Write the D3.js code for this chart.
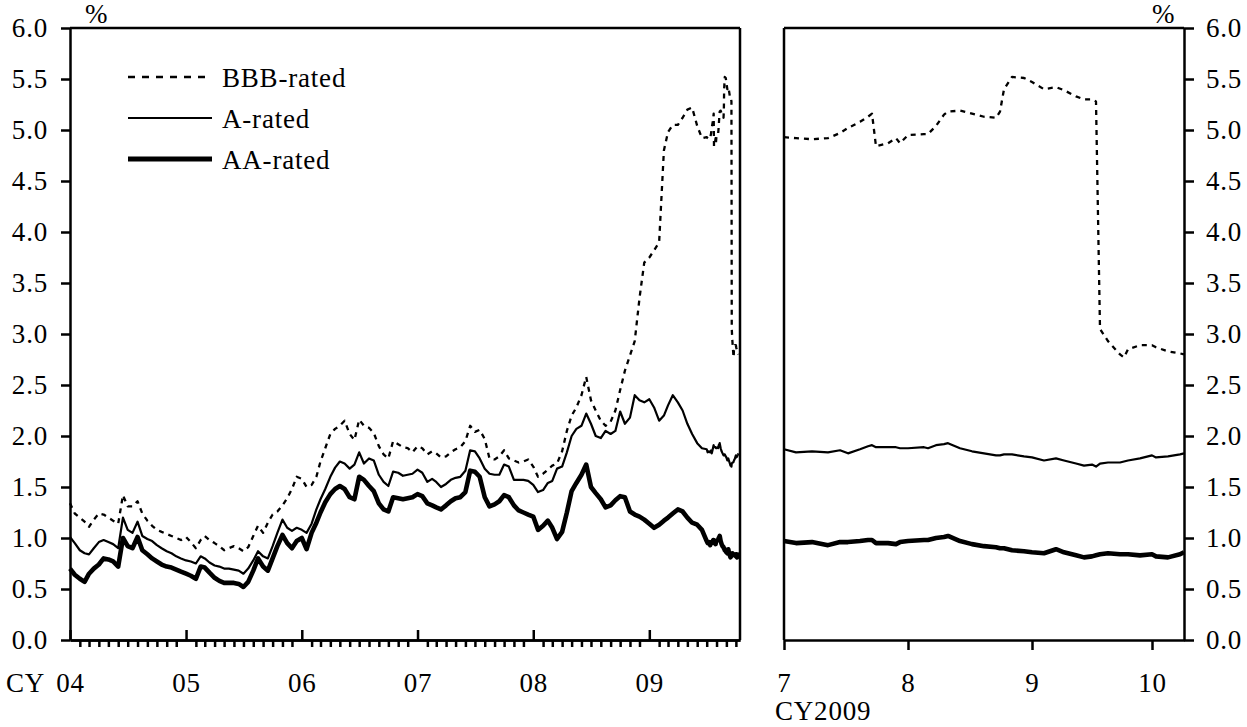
<!DOCTYPE html>
<html><head><meta charset="utf-8">
<script src="https://cdn.jsdelivr.net/npm/d3@7"></script>
<style>
body{margin:0;background:#fff}
svg text{font-family:"Liberation Serif","Times New Roman",serif;font-size:27px;letter-spacing:0.8px;fill:#000}
</style>
</head><body>
<svg id="c" width="1247" height="727"></svg>
<script>
// ---------- DATA ----------
const seriesNames = ["BBB-rated", "A-rated", "AA-rated"];
const yTicks = [0, 0.5, 1, 1.5, 2, 2.5, 3, 3.5, 4, 4.5, 5, 5.5, 6];
const leftYearTicks = ["2004-01-01","2005-01-01","2006-01-01","2007-01-01","2008-01-01","2009-01-01"];
const leftYearLabels = ["04","05","06","07","08","09"];
const rightMonthTicks = ["2009-07-01","2009-08-01","2009-09-01","2009-10-01"];
const rightMonthLabels = ["7","8","9","10"];

// Left panel: semi-monthly observations (1st and 16th), Jan 2004 - Jun 2009
const leftYears = [2004, 2005, 2006, 2007, 2008, 2009];
const bbbLeft = [
 1.34,1.24,1.20,1.16,1.11,1.18,1.24,1.23,1.20,1.17,1.14,1.42,1.31,1.31,1.36,1.24,1.17,1.12,1.08,1.06,1.04,1.02,1.00,0.98,
 1.01,0.96,0.90,0.98,1.02,0.98,0.95,0.92,0.88,0.90,0.92,0.90,0.87,0.91,1.02,1.12,1.05,1.15,1.23,1.26,1.32,1.39,1.48,1.60,
 1.58,1.50,1.52,1.60,1.75,1.88,2.02,2.07,2.10,2.15,2.02,1.96,2.16,2.10,2.08,2.03,1.90,1.82,1.78,1.95,1.92,1.89,1.88,1.84,
 1.90,1.88,1.82,1.85,1.83,1.79,1.80,1.84,1.87,1.89,1.95,2.10,2.04,2.06,1.97,1.78,1.77,1.80,1.86,1.78,1.76,1.74,1.75,1.77,
 1.70,1.60,1.63,1.67,1.71,1.73,1.85,2.05,2.20,2.28,2.40,2.58,2.35,2.25,2.15,2.10,2.14,2.25,2.45,2.64,2.79,2.93,3.35,3.70,
 3.75,3.82,3.90,4.80,4.98,5.05,5.05,5.12,5.20,5.22,5.04,4.92
];
const aLeft = [
 1.01,0.95,0.88,0.85,0.84,0.90,0.96,0.98,0.96,0.94,0.90,1.20,1.08,1.05,1.16,1.02,0.99,0.97,0.93,0.90,0.87,0.85,0.82,0.80,
 0.78,0.77,0.75,0.82,0.80,0.76,0.73,0.72,0.70,0.70,0.69,0.68,0.65,0.70,0.78,0.87,0.82,0.80,0.92,1.05,1.18,1.10,1.07,1.10,
 1.08,1.05,1.14,1.28,1.38,1.48,1.60,1.69,1.75,1.73,1.68,1.72,1.84,1.73,1.78,1.76,1.62,1.55,1.51,1.65,1.64,1.61,1.62,1.63,
 1.67,1.64,1.55,1.58,1.55,1.50,1.53,1.57,1.59,1.60,1.66,1.86,1.85,1.78,1.68,1.63,1.62,1.62,1.72,1.70,1.57,1.57,1.57,1.56,
 1.52,1.45,1.47,1.54,1.56,1.68,1.70,1.84,2.00,2.07,2.10,2.22,2.12,2.00,1.98,2.05,2.02,2.05,2.24,2.12,2.18,2.40,2.35,2.33,
 2.36,2.28,2.15,2.20,2.30,2.40,2.33,2.25,2.12,2.02,1.93,1.88
];
const aaLeft = [
 0.70,0.64,0.60,0.57,0.65,0.70,0.74,0.80,0.79,0.77,0.72,1.00,0.92,0.90,1.01,0.88,0.84,0.80,0.77,0.74,0.72,0.71,0.69,0.67,
 0.65,0.63,0.60,0.72,0.71,0.66,0.61,0.58,0.56,0.56,0.56,0.55,0.52,0.57,0.68,0.80,0.72,0.68,0.80,0.92,1.03,0.95,0.90,0.97,
 1.00,0.89,1.05,1.15,1.25,1.35,1.43,1.48,1.51,1.48,1.40,1.38,1.60,1.57,1.51,1.46,1.34,1.28,1.26,1.40,1.39,1.38,1.39,1.40,
 1.43,1.41,1.34,1.32,1.30,1.28,1.32,1.36,1.39,1.40,1.45,1.66,1.65,1.60,1.40,1.31,1.33,1.36,1.42,1.40,1.32,1.27,1.25,1.23,
 1.21,1.08,1.12,1.17,1.10,0.99,1.06,1.25,1.46,1.54,1.62,1.72,1.50,1.44,1.38,1.30,1.32,1.37,1.41,1.40,1.26,1.23,1.21,1.18,
 1.14,1.10,1.13,1.17,1.20,1.24,1.28,1.26,1.20,1.15,1.13,1.08
];

// Right panel: Jul - Oct 2009 (also continues the left panel)
const rightDates = [
 "2009-07-01","2009-07-04","2009-07-08","2009-07-12","2009-07-15","2009-07-17","2009-07-20","2009-07-22","2009-07-23","2009-07-24",
 "2009-07-27","2009-07-29","2009-07-30","2009-08-01","2009-08-05","2009-08-06","2009-08-08","2009-08-10","2009-08-11","2009-08-14",
 "2009-08-17","2009-08-20","2009-08-23","2009-08-24","2009-08-25","2009-08-27","2009-08-30","2009-09-01","2009-09-04","2009-09-07",
 "2009-09-09","2009-09-12","2009-09-14","2009-09-16","2009-09-17","2009-09-18","2009-09-20","2009-09-23","2009-09-24","2009-09-25",
 "2009-09-28","2009-10-01","2009-10-02","2009-10-05","2009-10-08","2009-10-09"
];
const bbbRight = [
 4.93,4.92,4.91,4.92,4.97,5.02,5.08,5.13,5.16,4.84,
 4.87,4.92,4.87,4.95,4.96,4.96,5.04,5.15,5.18,5.19,
 5.16,5.13,5.12,5.18,5.40,5.52,5.51,5.47,5.40,5.42,
 5.39,5.33,5.30,5.30,5.28,3.05,2.93,2.80,2.77,2.85,
 2.89,2.89,2.87,2.83,2.81,2.80
];
const aRight = [
 1.87,1.84,1.85,1.84,1.86,1.83,1.87,1.90,1.91,1.89,
 1.89,1.89,1.88,1.88,1.89,1.88,1.91,1.92,1.93,1.88,
 1.85,1.83,1.81,1.81,1.82,1.82,1.80,1.79,1.76,1.78,
 1.76,1.73,1.71,1.72,1.70,1.73,1.74,1.74,1.75,1.76,
 1.78,1.81,1.79,1.80,1.82,1.83
];
const aaRight = [
 0.97,0.95,0.96,0.93,0.96,0.96,0.97,0.98,0.98,0.95,
 0.95,0.94,0.96,0.97,0.98,0.98,1.00,1.01,1.02,0.97,
 0.94,0.92,0.91,0.90,0.90,0.88,0.87,0.86,0.85,0.89,
 0.86,0.83,0.81,0.82,0.83,0.84,0.85,0.84,0.84,0.84,
 0.83,0.84,0.82,0.81,0.84,0.86
];

// ---------- BUILD ----------
const parse = d3.utcParse("%Y-%m-%d");
const leftDates = [];
leftYears.forEach(yr => {
  for (let m = 1; m <= 12; m++) {
    if (yr === 2009 && m > 6) break;
    const mm = String(m).padStart(2, "0");
    leftDates.push(`${yr}-${mm}-01`, `${yr}-${mm}-16`);
  }
});
function toPts(dates, vals) { return dates.map((d, i) => ({date: parse(d), v: vals[i]})); }
const rightSeries = [toPts(rightDates, bbbRight), toPts(rightDates, aRight), toPts(rightDates, aaRight)];
const leftSeries = [
  toPts(leftDates, bbbLeft).concat(rightSeries[0]),
  toPts(leftDates, aLeft).concat(rightSeries[1]),
  toPts(leftDates, aaLeft).concat(rightSeries[2])
];
const styles = [
  {w: 2.3, dash: "5,5"},
  {w: 2.2, dash: null},
  {w: 4.6, dash: null}
];

const svg = d3.select("#c");
const yTop = 28, yBot = 640;
const y = d3.scaleLinear().domain([0, 6]).range([yBot, yTop]);
const xL = d3.scaleUtc().domain([parse("2004-01-01"), parse("2009-10-14")]).range([70, 740]);
const xR = d3.scaleUtc().domain([parse("2009-07-01"), parse("2009-10-09")]).range([784, 1184]);
const AX = 2.5;

function styleAxis(g) {
  g.attr("font-family", null).attr("font-size", null);
  g.selectAll("path.domain").attr("stroke", "#000").attr("stroke-width", AX);
  g.selectAll(".tick line").attr("stroke", "#000").attr("stroke-width", AX);
  g.selectAll(".tick text").attr("fill", "#000");
}

// data lines
function drawLines(x, series) {
  const line = d3.line().x(d => x(d.date)).y(d => y(d.v));
  series.forEach((s, i) => {
    svg.append("path").datum(s).attr("d", line).attr("fill", "none").attr("stroke", "#000")
      .attr("stroke-width", styles[i].w).attr("stroke-linejoin", "round").attr("stroke-linecap", "butt")
      .attr("stroke-dasharray", styles[i].dash);
  });
}
drawLines(xL, leftSeries);
drawLines(xR, rightSeries);

// Left panel frame
svg.append("line").attr("x1", 70).attr("x2", 740).attr("y1", yTop).attr("y2", yTop).attr("stroke", "#000").attr("stroke-width", AX);
svg.append("line").attr("x1", 740).attr("x2", 740).attr("y1", yTop).attr("y2", yBot).attr("stroke", "#000").attr("stroke-width", AX);
// Right panel frame
svg.append("line").attr("x1", 784).attr("x2", 1184).attr("y1", yTop).attr("y2", yTop).attr("stroke", "#000").attr("stroke-width", AX);
svg.append("line").attr("x1", 784).attr("x2", 784).attr("y1", yTop).attr("y2", yBot).attr("stroke", "#000").attr("stroke-width", AX);

// Left y axis
svg.append("g").attr("transform", "translate(70,0)")
  .call(d3.axisLeft(y).tickValues(yTicks).tickFormat(d3.format(".1f")).tickSize(9).tickSizeOuter(0).tickPadding(13))
  .call(styleAxis);
// Right y axis
svg.append("g").attr("transform", "translate(1184,0)")
  .call(d3.axisRight(y).tickValues(yTicks).tickFormat(d3.format(".1f")).tickSize(10).tickSizeOuter(0).tickPadding(12))
  .call(styleAxis);

// Left x axis: minor monthly ticks (down)
const months = d3.utcMonth.range(parse("2004-01-01"), parse("2009-10-14")).filter(d => d.getUTCMonth() !== 0);
svg.append("g").attr("transform", `translate(0,${yBot})`)
  .call(d3.axisBottom(xL).tickValues(months).tickSize(7).tickSizeOuter(0).tickFormat(""))
  .call(styleAxis);
// Left x axis: major year ticks (up) with labels
svg.append("g").attr("transform", `translate(0,${yBot})`)
  .call(d3.axisBottom(xL).tickValues(leftYearTicks.map(parse)).tickSize(-10).tickSizeOuter(0)
    .tickPadding(33).tickFormat((d, i) => leftYearLabels[i]))
  .call(styleAxis);
svg.append("text").attr("x", 6).attr("y", 692).text("CY");

// Right x axis
svg.append("g").attr("transform", `translate(0,${yBot})`)
  .call(d3.axisBottom(xR).tickValues(rightMonthTicks.map(parse)).tickSize(10).tickSizeOuter(0)
    .tickPadding(23).tickFormat((d, i) => rightMonthLabels[i]))
  .call(styleAxis);
svg.append("text").attr("x", 775).attr("y", 720).text("CY2009");

// unit labels
svg.append("text").attr("x", 85).attr("y", 23).text("%");
svg.append("text").attr("x", 1152).attr("y", 23).text("%");

// legend
const legY = [77, 118, 159];
seriesNames.forEach((name, i) => {
  svg.append("line").attr("x1", 128).attr("x2", 212).attr("y1", legY[i]).attr("y2", legY[i])
    .attr("stroke", "#000").attr("stroke-width", i === 2 ? 5 : styles[i].w)
    .attr("stroke-dasharray", i === 0 ? "7,7" : null);
  svg.append("text").attr("x", 222).attr("y", legY[i] + 10).text(name);
});
</script>
</body></html>
